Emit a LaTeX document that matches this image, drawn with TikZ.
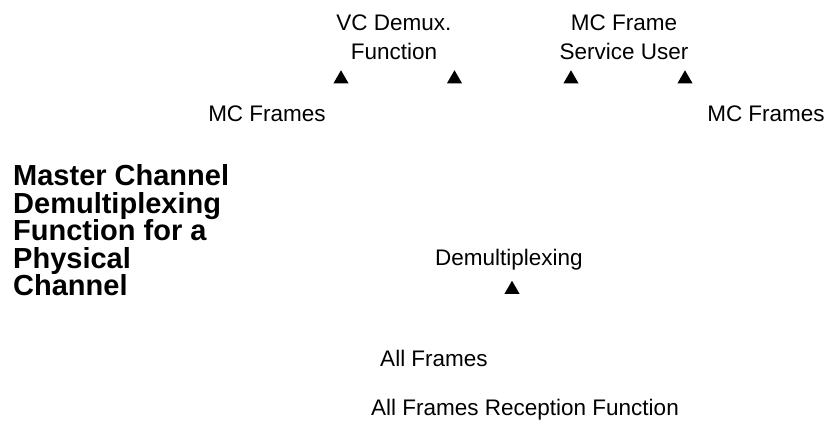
\documentclass[tikz,border=0pt]{standalone}
\usepackage{fontspec}
\setmainfont{Liberation Sans}
\usetikzlibrary{shapes.geometric}
\begin{document}
\begin{tikzpicture}[x=1pt,y=-1pt,
  lbl/.style={inner sep=0pt, font=\fontsize{22.5}{28.3}\selectfont},
  ttl/.style={inner sep=0pt, align=left, font=\bfseries\fontsize{29}{27.5}\selectfont},
  tri/.style={regular polygon, regular polygon sides=3, fill=black, draw=none, inner sep=0pt, minimum size=17.5pt}]
\useasboundingbox (0,0) rectangle (830,432);
% top labels
\node[lbl, align=center, anchor=north] (vc) at (394,15) {VC Demux.\\Function};
\node[lbl, align=center, anchor=north] (mcu) at (624,15) {MC Frame\\Service User};
% triangles
\node[tri] (t1) at (341,79) {};
\node[tri] (t2) at (454.5,79) {};
\node[tri] (t3) at (571,79) {};
\node[tri] (t4) at (685,79) {};
% MC Frames
\node[lbl, anchor=base] (mcl) at (267,121.7) {MC Frames};
\node[lbl, anchor=base] (mcr) at (766,121.7) {MC Frames};
% title
\node[ttl, anchor=north west] (title) at (13,164.5) {Master Channel\\Demultiplexing\\Function for a\\Physical\\Channel};
% demultiplexing
\node[lbl, anchor=base] (demux) at (509,265) {Demultiplexing};
\node[tri] (t5) at (512,289.5) {};
\node[lbl, anchor=base] (allf) at (434,366.7) {All Frames};
\node[lbl, anchor=base] (afr) at (525,415) {All Frames Reception Function};
\end{tikzpicture}
\end{document}
